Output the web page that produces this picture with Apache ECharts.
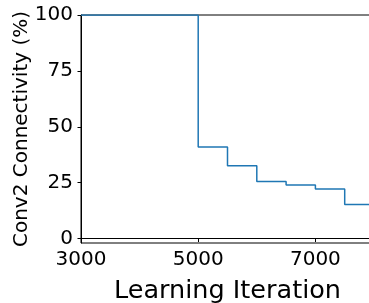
<!DOCTYPE html>
<html>
<head>
<meta charset="utf-8">
<script src="https://cdn.jsdelivr.net/npm/echarts@6/dist/echarts.min.js"></script>
<style>
  html, body { margin: 0; padding: 0; background: #fff; }
  #main { width: 369px; height: 303px; }
</style>
</head>
<body>
<div id="main"></div>
<script>
// step points (value holds until the next iteration)
const iterations = [3000, 5000, 5500, 6000, 6500, 7000, 7500, 8000]
const connectivity = [100, 40.9, 32.6, 25.5, 23.9, 22.2, 15.2, 15.2]
const xTicks = [3000, 5000, 7000]
const yTicks = [0, 25, 50, 75, 100]

const font = 'DejaVu Sans'
const chart = echarts.init(document.getElementById('main'))

const option = {
  animation: false,
  grid: {
    left: 81,
    top: 15,
    right: -5,
    bottom: 60,
    outerBoundsMode: 'none',
    containLabel: false,
    show: true,
    borderColor: '#000',
    borderWidth: 1
  },
  xAxis: {
    type: 'value',
    min: 3000,
    max: 8000,
    name: 'Learning Iteration',
    nameLocation: 'middle',
    nameMoveOverlap: false,
    nameGap: 35,
    nameTextStyle: {fontFamily: font, fontSize: 25.5, color: '#000'},
    axisLine: {show: true, lineStyle: {color: '#000', width: 1}},
    axisTick: {show: true, length: 3.5, customValues: xTicks, lineStyle: {color: '#000'}},
    axisLabel: {
      customValues: xTicks,
      formatter: v => String(v),
      fontFamily: font, fontSize: 20, color: '#000', margin: 7
    },
    splitLine: {show: false}
  },
  yAxis: {
    type: 'value',
    min: -2,
    max: 100,
    name: 'Conv2 Connectivity (%)',
    nameLocation: 'middle',
    nameMoveOverlap: false,
    nameGap: 49,
    nameTextStyle: {fontFamily: font, fontSize: 20, color: '#000'},
    axisLine: {show: true, lineStyle: {color: '#000', width: 1}},
    axisTick: {show: true, length: 3.5, customValues: yTicks, lineStyle: {color: '#000'}},
    axisLabel: {
      customValues: yTicks,
      formatter: v => String(v),
      fontFamily: font, fontSize: 20, color: '#000', margin: 8
    },
    splitLine: {show: false}
  },
  series: [
    {
      type: 'line',
      step: 'end',
      symbol: 'none',
      lineStyle: {color: '#1f77b4', width: 1.5},
      data: iterations.map((x, i) => [x, connectivity[i]])
    }
  ]
}
chart.setOption(option)
</script>
</body>
</html>
